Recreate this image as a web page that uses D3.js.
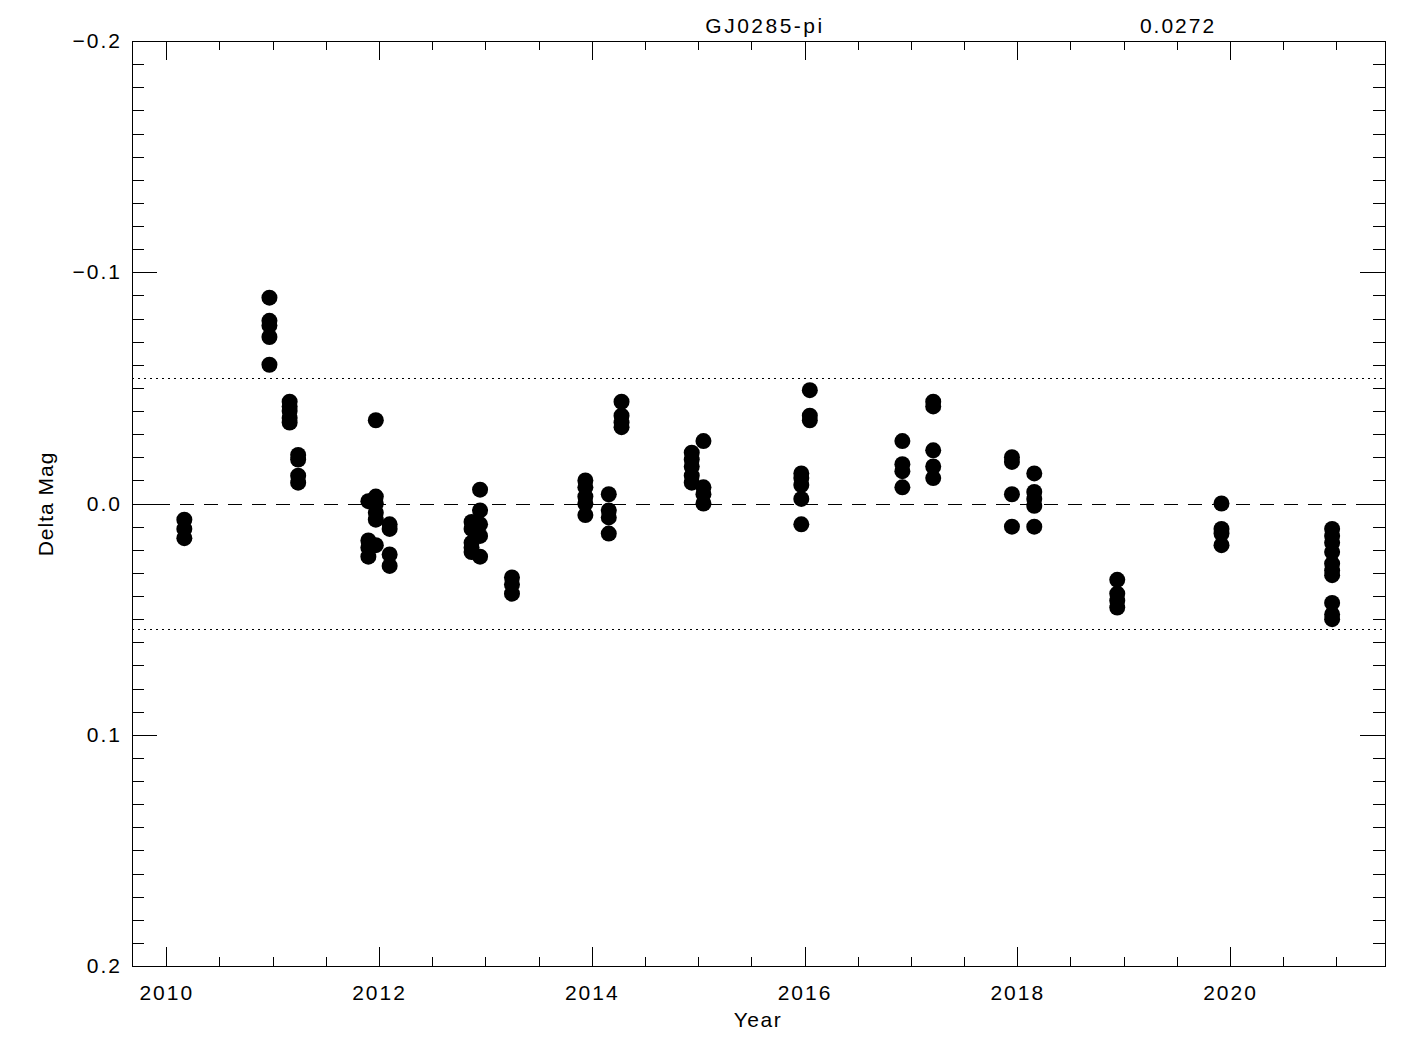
<!DOCTYPE html>
<html>
<head>
<meta charset="utf-8">
<script src="https://cdn.jsdelivr.net/npm/d3@7"></script>
<style>
  body { margin: 0; background: #fff; }
  svg text { font-family: "Liberation Sans", "DejaVu Sans", sans-serif; fill: #000; }
</style>
</head>
<body>
<svg id="chart" width="1425" height="1050"></svg>
<script>
// star name and rms scatter shown on top
var starName = "GJ0285-pi"
var sigma = 0.0272

// observation epochs (year) and delta mags per epoch
var epochs = [2010.17, 2010.97, 2011.16, 2011.24, 2011.90, 2011.97, 2012.10,
              2012.87, 2012.95, 2013.25, 2013.94, 2014.16, 2014.28, 2014.94,
              2015.05, 2015.97, 2016.05, 2016.92, 2017.21, 2017.95, 2018.16,
              2018.94, 2019.92, 2020.96]
var dmags = [
  [0.007, 0.011, 0.015],
  [-0.089, -0.079, -0.077, -0.072, -0.060],
  [-0.044, -0.042, -0.040, -0.037, -0.035],
  [-0.021, -0.019, -0.012, -0.009],
  [-0.001, 0.016, 0.019, 0.023],
  [-0.036, -0.003, 0.000, 0.004, 0.007, 0.018],
  [0.009, 0.011, 0.022, 0.027],
  [0.008, 0.011, 0.017, 0.019, 0.021],
  [-0.006, 0.003, 0.009, 0.014, 0.023],
  [0.032, 0.035, 0.039],
  [-0.010, -0.007, -0.003, 0.000, 0.005],
  [-0.004, 0.003, 0.006, 0.013],
  [-0.044, -0.038, -0.035, -0.033],
  [-0.022, -0.019, -0.016, -0.012, -0.009],
  [-0.027, -0.007, -0.004, 0.000],
  [-0.013, -0.011, -0.008, -0.002, 0.009],
  [-0.049, -0.038, -0.036],
  [-0.027, -0.017, -0.014, -0.007],
  [-0.044, -0.042, -0.023, -0.016, -0.011],
  [-0.020, -0.018, -0.004, 0.010],
  [-0.013, -0.005, -0.002, 0.001, 0.010],
  [0.033, 0.039, 0.042, 0.045],
  [0.000, 0.011, 0.013, 0.018],
  [0.011, 0.014, 0.017, 0.021, 0.026, 0.029, 0.031, 0.043, 0.048, 0.050]
]

var xMajor = [2010, 2012, 2014, 2016, 2018, 2020]
var yMajor = [-0.2, -0.1, 0.0, 0.1, 0.2]

var points = []
epochs.forEach(function(yr, i) {
    dmags[i].forEach(function(m) { points.push({year: yr, dmag: m}) })
})

var pLeft = 132, pRight = 1385, pTop = 41, pBottom = 966
var x = d3.scaleLinear().domain([2009.678, 2021.457]).range([pLeft, pRight])
var y = d3.scaleLinear().domain([-0.2, 0.2]).range([pTop, pBottom])

var svg = d3.select("#chart")

var xMinor = d3.range(2009.5, 2021.51, 0.5).filter(function(v) { return v >= x.domain()[0] && v <= x.domain()[1] && v % 2 !== 0 })
var yMinor = d3.range(-20, 21).filter(function(v) { return v % 10 !== 0 }).map(function(v) { return v / 100 })

function fmtY(v) {
    var s = Math.abs(v).toFixed(1)
    return (v < -1e-9 ? "\u2212" : "") + s
}

// axes with ticks on all four sides
svg.append("g").attr("transform", "translate(0," + pBottom + ")")
    .call(d3.axisBottom(x).tickValues(xMajor).tickSize(-19).tickPadding(19).tickFormat(d3.format("d")))
svg.append("g").attr("transform", "translate(0," + pBottom + ")")
    .call(d3.axisBottom(x).tickValues(xMinor).tickSize(-9).tickFormat(""))
svg.append("g").attr("transform", "translate(0," + pTop + ")")
    .call(d3.axisTop(x).tickValues(xMajor).tickSize(-19).tickFormat(""))
svg.append("g").attr("transform", "translate(0," + pTop + ")")
    .call(d3.axisTop(x).tickValues(xMinor).tickSize(-9).tickFormat(""))
svg.append("g").attr("transform", "translate(" + pLeft + ",0)")
    .call(d3.axisLeft(y).tickValues(yMajor).tickSize(-25).tickPadding(10).tickFormat(fmtY))
svg.append("g").attr("transform", "translate(" + pLeft + ",0)")
    .call(d3.axisLeft(y).tickValues(yMinor).tickSize(-12).tickFormat(""))
svg.append("g").attr("transform", "translate(" + pRight + ",0)")
    .call(d3.axisRight(y).tickValues(yMajor).tickSize(-25).tickFormat(""))
svg.append("g").attr("transform", "translate(" + pRight + ",0)")
    .call(d3.axisRight(y).tickValues(yMinor).tickSize(-12).tickFormat(""))

svg.selectAll(".domain").remove()
svg.selectAll(".tick line").attr("stroke", "#000").attr("shape-rendering", "crispEdges")
svg.selectAll(".tick text").attr("font-size", 21).attr("letter-spacing", 2).attr("fill", "#000")

svg.append("rect")
    .attr("x", pLeft + 0.5).attr("y", pTop + 0.5)
    .attr("width", pRight - pLeft).attr("height", pBottom - pTop)
    .attr("fill", "none").attr("stroke", "#000").attr("shape-rendering", "crispEdges")

// zero line and 2 sigma lines
svg.append("line")
    .attr("x1", pLeft).attr("x2", pRight).attr("y1", Math.round(y(0)) + 0.5).attr("y2", Math.round(y(0)) + 0.5)
    .attr("stroke", "#000").attr("stroke-dasharray", "14,10")
;[-2 * sigma, 2 * sigma].forEach(function(v) {
    svg.append("line")
        .attr("x1", pLeft).attr("x2", pRight).attr("y1", Math.round(y(v)) + 0.5).attr("y2", Math.round(y(v)) + 0.5)
        .attr("stroke", "#000").attr("stroke-dasharray", "2,4")
})

svg.append("g").selectAll("circle").data(points).enter().append("circle")
    .attr("cx", function(d) { return x(d.year) })
    .attr("cy", function(d) { return y(d.dmag) })
    .attr("r", 8)
    .attr("fill", "#000")

// titles
svg.append("text").attr("x", 765).attr("y", 33).attr("text-anchor", "middle")
    .attr("font-size", 21).attr("letter-spacing", 2.5).text(starName)
svg.append("text").attr("x", 1178).attr("y", 33).attr("text-anchor", "middle")
    .attr("font-size", 21).attr("letter-spacing", 2).text(sigma.toFixed(4))
svg.append("text").attr("x", 758).attr("y", 1027).attr("text-anchor", "middle")
    .attr("font-size", 21).attr("letter-spacing", 1.5).text("Year")
svg.append("text").attr("transform", "translate(53,504) rotate(-90)").attr("text-anchor", "middle")
    .attr("font-size", 21).attr("letter-spacing", 1).text("Delta Mag")
</script>
</body>
</html>
